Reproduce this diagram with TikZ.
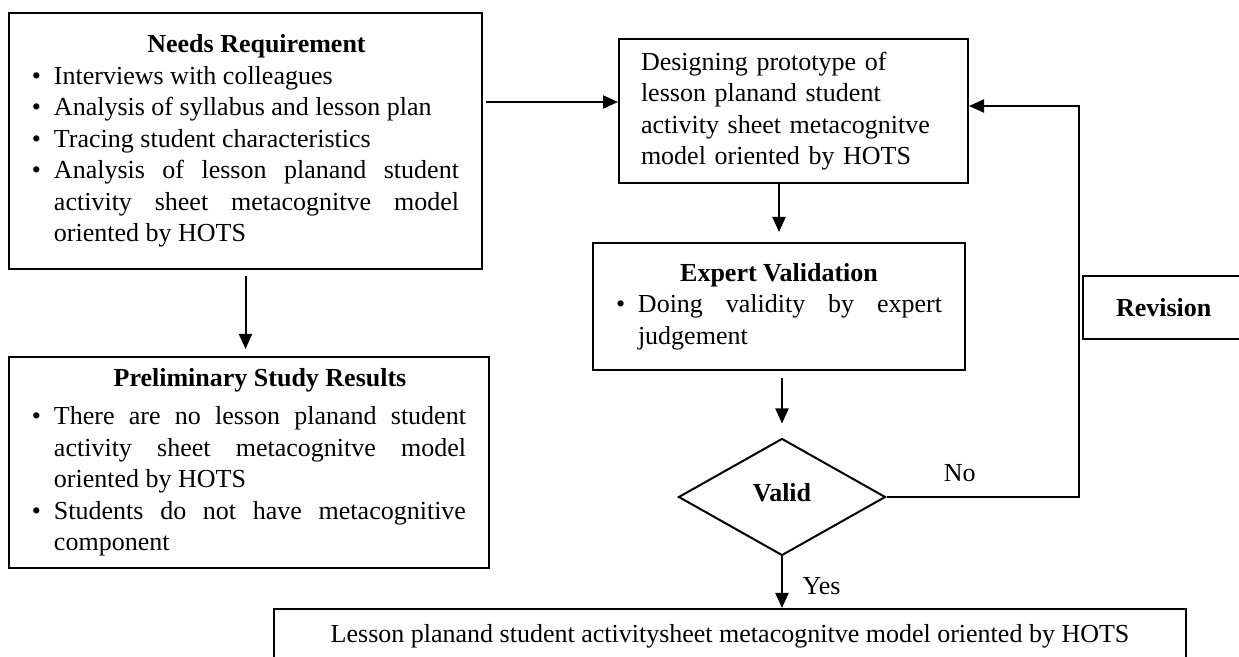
\documentclass[tikz,border=0pt]{standalone}
\usepackage{fontspec}
\setmainfont{Liberation Serif}
\usetikzlibrary{arrows.meta,positioning,shapes.geometric}
\hyphenpenalty=10000
\tolerance=3000
\newcommand{\itm}{\par\noindent\hangindent=11pt\hangafter=1\makebox[11pt][l]{\textbullet}}
\newcommand{\boxttl}[2][11pt]{{\leftskip=#1 plus 1fil\rightskip=0pt plus 1fil\parfillskip=0pt\noindent\textbf{#2}\par}}

\begin{document}
\begin{tikzpicture}[x=0.5pt,y=-0.5pt,line width=1pt,
    font=\fontsize{13}{15.75}\selectfont,
    box/.style={draw,rectangle,inner ysep=0pt},
    lst/.style={box,align=justify,inner xsep=11.5pt},
    arr/.style={-{Triangle[length=7.5pt,width=6.5pt]}}]
  \useasboundingbox (0,0) rectangle (1239,657);
  \clip (0,0) rectangle (1239,657);
  % left column
  \node[lst,minimum width=236.5pt,minimum height=128pt,text width=213.5pt] (nr) at (245.5,141)
    {\boxttl{Needs Requirement}\itm Interviews with colleagues\itm Analysis of syllabus and lesson plan\itm Tracing student characteristics\itm Analysis of lesson planand student activity sheet metacognitve model oriented by HOTS\par\vspace{7pt}};
  \node[lst,minimum width=240pt,minimum height=105.5pt,text width=217pt] (ps) at (249,462.5)
    {\vspace*{3.5pt}\boxttl{Preliminary Study Results}\itm There are no lesson planand student activity sheet metacognitve model oriented by HOTS\itm Students do not have metacognitive component\par};
  % right column
  \node[box,align=left,inner xsep=11pt,minimum width=174.5pt,minimum height=72pt,text width=152.5pt] (dp) at (793.5,111)
    {Designing prototype of\\ lesson planand student\\ activity sheet metacognitve\\ model oriented by HOTS};
  \node[lst,minimum width=186pt,minimum height=63.5pt,text width=163pt] (ev) at (779,306.5)
    {\boxttl[0pt]{Expert Validation}\itm Doing validity by expert judgement\par};
  \node[draw,diamond,minimum width=103.5pt,minimum height=58.5pt,inner sep=0pt,text depth=5pt,font=\fontsize{13}{15.75}\selectfont\bfseries] (va) at (782,497) {Valid};
  \node[box,anchor=west,align=left,inner xsep=16.5pt,minimum height=31.5pt,text width=150pt,font=\fontsize{13}{15.75}\selectfont\bfseries] (rv) at (1082,307.5) {Revision};
  \node[box,anchor=north,minimum width=456pt,minimum height=27pt] (ls) at (730,608)
    {Lesson planand student activitysheet metacognitve model oriented by HOTS};
  % connectors
  \coordinate (in1) at ([yshift=4.5pt]dp.west);
  \coordinate (in2) at ([yshift=2.5pt]dp.east);
  \coordinate (rl) at ([xshift=-1.5pt]rv.west);
  \draw[arr,shorten <=1.5pt] (nr.east |- in1) -- (in1);
  \draw[arr,shorten <=3pt,shorten >=3.5pt] (nr.south) -- (nr.south |- ps.north);
  \draw[arr,shorten >=5pt] (dp.south -| ev.north) -- (ev.north);
  \draw[arr,shorten <=3.5pt,shorten >=7pt] (ev.south -| va.north) -- (va.north);
  \draw[arr] (va.south) -- (va.south |- ls.north) node[midway,right=6.5pt,yshift=-2pt] {Yes};
  \draw[arr] (va.east) -- (va.east -| rl) node[pos=0.38,above=4pt] {No} -- (rl |- in2) -- (in2);
\end{tikzpicture}
\end{document}
